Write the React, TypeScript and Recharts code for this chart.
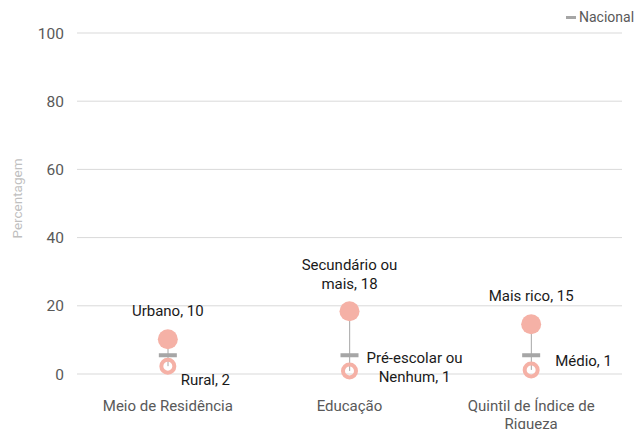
import React from "react";
import {
  ComposedChart,
  Bar,
  Line,
  XAxis,
  YAxis,
  CartesianGrid,
  Text,
} from "recharts";

// values
const categories = ["Meio de Residência", "Educação", "Quintil de Índice de Riqueza"];
const highNames = ["Urbano", "Secundário ou\nmais", "Mais rico"];
const highValues = [10.2, 18.4, 14.6];
const lowNames = ["Rural", "Pré-escolar ou\nNenhum", "Médio"];
const lowValues = [2.3, 0.9, 1.2];
const nationalValues = [5.5, 5.5, 5.5];
const yTicks = [0, 20, 40, 60, 80, 100];

const data = categories.map((c, i) => ({
  category: c,
  high: highValues[i],
  low: lowValues[i],
  nat: nationalValues[i],
  range: [lowValues[i], highValues[i]],
}));

const SALMON = "#F5B1A6";
const GREY = "#A6A6A6";
const FONT = "Roboto, 'Liberation Sans', sans-serif";

// label placement (offsets from the marker)
const highLabelPos = [
  { dx: 0, dy: -23, anchor: "middle" },
  { dx: 0, dy: -41, anchor: "middle" },
  { dx: 0, dy: -23, anchor: "middle" },
];
const lowLabelPos = [
  { dx: 13, dy: 19, anchor: "start" },
  { dx: 65, dy: -8, anchor: "middle" },
  { dx: 24, dy: -4, anchor: "start" },
];

const renderLines = (text: string, x: number, y: number, anchor: string) => {
  const lines = text.split("\n");
  return (
    <text x={x} y={y} textAnchor={anchor} fontSize={15} fill="#1a1a1a" fontFamily={FONT}>
      {lines.map((l, k) => (
        <tspan key={k} x={x} dy={k === 0 ? 0 : 19}>
          {l}
        </tspan>
      ))}
    </text>
  );
};

const HighDot = (props: any) => {
  const { cx, cy, index } = props;
  if (cx == null || cy == null) return <g key={`h-${index}`} />;
  const p = highLabelPos[index];
  const txt = `${highNames[index]}, ${Math.round(highValues[index])}`;
  return (
    <g key={`h-${index}`}>
      <circle cx={cx} cy={cy} r={10} fill={SALMON} />
      {renderLines(txt, cx + p.dx, cy + p.dy, p.anchor)}
    </g>
  );
};

const LowDot = (props: any) => {
  const { cx, cy, index } = props;
  if (cx == null || cy == null) return <g key={`l-${index}`} />;
  const p = lowLabelPos[index];
  const txt = `${lowNames[index]}, ${Math.round(lowValues[index])}`;
  return (
    <g key={`l-${index}`}>
      <circle cx={cx} cy={cy} r={6.5} fill="none" stroke={SALMON} strokeWidth={4} />
      {renderLines(txt, cx + p.dx, cy + p.dy, p.anchor)}
    </g>
  );
};

const NatDot = (props: any) => {
  const { cx, cy, index } = props;
  if (cx == null || cy == null) return <g key={`n-${index}`} />;
  return <rect key={`n-${index}`} x={cx - 9} y={cy - 2} width={18} height={4} fill={GREY} />;
};

const Connector = (props: any) => {
  const { x, y, width, height } = props;
  const cx = x + width / 2;
  return <line x1={cx} x2={cx} y1={y} y2={y + height} stroke={GREY} strokeWidth={1} />;
};

const CategoryTick = (props: any) => {
  const { x, y, payload } = props;
  return (
    <Text
      x={x}
      y={y}
      width={160}
      textAnchor="middle"
      verticalAnchor="start"
      fontSize={15}
      fill="#595959"
      fontFamily={FONT}
      lineHeight={18}
    >
      {payload.value}
    </Text>
  );
};

const YLabel = (props: any) => {
  const { viewBox } = props;
  const cy = viewBox.y + viewBox.height / 2 - 5;
  const x = 22;
  return (
    <text
      x={x}
      y={cy}
      transform={`rotate(-90 ${x} ${cy})`}
      textAnchor="middle"
      fontSize={13.5}
      fill="#BFBFBF"
      fontFamily={FONT}
    >
      Percentagem
    </text>
  );
};

export default function App() {
  return (
    <div style={{ position: "absolute", left: 0, top: 0, width: 639, height: 429, background: "#fff" }}>
      <ComposedChart
        width={639}
        height={429}
        data={data}
        margin={{ top: 33, right: 17, bottom: 0, left: 0 }}
        style={{ fontFamily: FONT }}
      >
        <CartesianGrid vertical={false} stroke="#D9D9D9" strokeWidth={1} />
        <XAxis
          dataKey="category"
          axisLine={false}
          tickLine={false}
          height={55}
          interval={0}
          tickMargin={20}
          tick={<CategoryTick />}
        />
        <YAxis
          domain={[0, 100]}
          ticks={yTicks}
          width={77}
          axisLine={false}
          tickLine={false}
          tickMargin={7}
          tick={{ fontSize: 15.5, fill: "#595959", fontFamily: FONT }}
          label={<YLabel />}
        />
        <Bar dataKey="range" barSize={10} shape={<Connector />} isAnimationActive={false} />
        <Line dataKey="nat" stroke="none" dot={NatDot} activeDot={false} isAnimationActive={false} />
        <Line dataKey="low" stroke="none" dot={LowDot} activeDot={false} isAnimationActive={false} />
        <Line dataKey="high" stroke="none" dot={HighDot} activeDot={false} isAnimationActive={false} />
      </ComposedChart>
      <div
        style={{
          position: "absolute",
          left: 566,
          top: 9,
          display: "flex",
          alignItems: "center",
          fontFamily: FONT,
          fontSize: 14,
          color: "#595959",
        }}
      >
        <span style={{ display: "inline-block", width: 10, height: 3, background: GREY, marginRight: 3 }} />
        Nacional
      </div>
    </div>
  );
}
